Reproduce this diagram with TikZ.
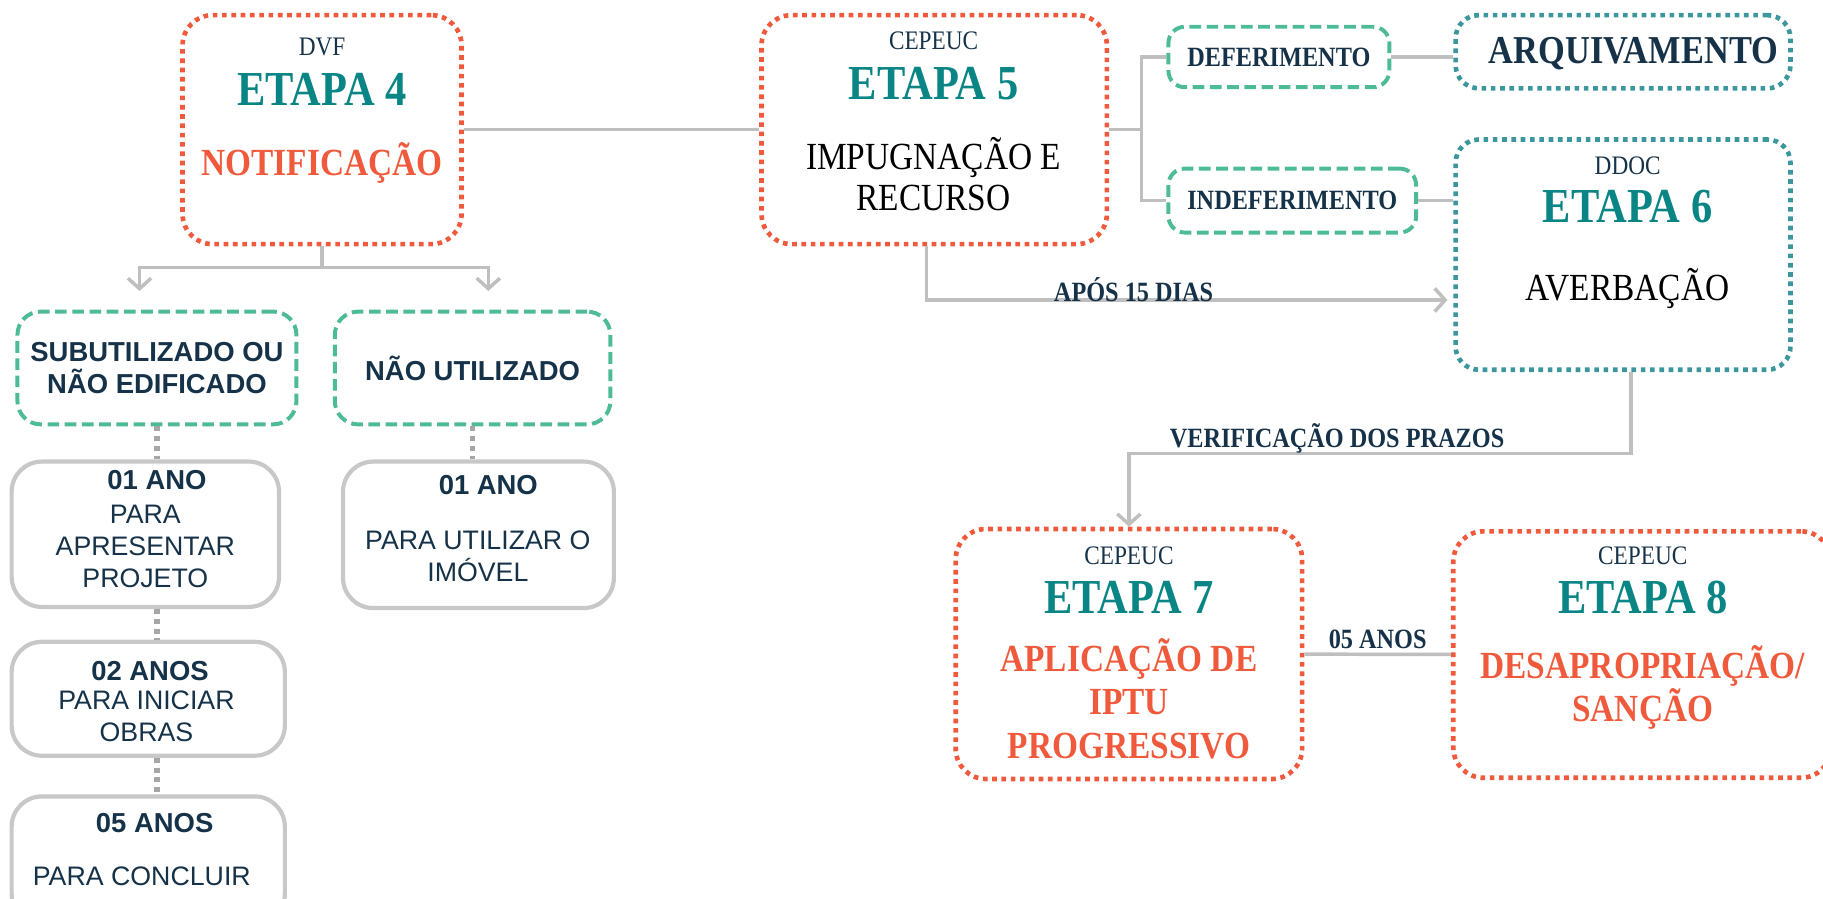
\documentclass[tikz,border=0pt]{standalone}
\usepackage{fontspec}
\setmainfont{Liberation Serif}[FakeStretch=0.87]
\setsansfont{Liberation Sans}
\usepackage{tikz}
\usetikzlibrary{arrows.meta}
\definecolor{laranja}{RGB}{240,90,60}
\definecolor{petroleo}{RGB}{60,150,158}
\definecolor{verde}{RGB}{77,187,152}
\definecolor{tealtxt}{RGB}{10,133,133}
\definecolor{marinho}{RGB}{22,50,72}
\definecolor{cinza}{RGB}{191,191,191}
\definecolor{cinzaesc}{RGB}{166,166,166}
\definecolor{cinzabox}{RGB}{200,200,200}
\tikzset{
        pontos/.style={
            line width=2pt,
            dash pattern=on 2pt off 2pt,
        },
    }

\begin{document}
\begin{tikzpicture}[x=0.5pt,y=-0.5pt,
          conn/.style = {draw=cinza,line width=1.5pt},
          seta/.style = {conn,-{Straight Barb[length=4.5pt,width=10pt]}},
          pontil/.style = {draw=cinzaesc,line width=2.2pt,dash pattern=on 2.2pt off 2pt},
          etapabox/.style = {draw=laranja,pontos,rounded corners=13pt},
          azulbox/.style = {draw=petroleo,pontos,rounded corners=10pt},
          verdebox/.style = {draw=verde,line width=1.7pt,dash pattern=on 5pt off 2.4pt,rounded corners=7pt},
          prazobox/.style = {draw=cinzabox,line width=1.8pt,rounded corners=13pt},
          orgao/.style = {text=marinho,font=\fontsize{11.5}{13}\selectfont},
          etapa/.style = {text=tealtxt,font=\bfseries\fontsize{21}{25}\selectfont},
          titulo/.style = {text=laranja,align=center,font=\bfseries\fontsize{16.5}{18.7}\selectfont},
          texto/.style = {text=black,align=center,font=\fontsize{16.5}{17.5}\selectfont},
          rotulo/.style = {text=marinho,font=\bfseries\fontsize{12}{14}\selectfont},
          sansb/.style = {text=marinho,align=center,font=\sffamily\bfseries\fontsize{11.8}{14}\selectfont},
          sansr/.style = {text=marinho,align=center,font=\sffamily\fontsize{11.5}{13.75}\selectfont}
          ]
 \useasboundingbox (0,0) rectangle (1568,773);
 \clip (0,0) rectangle (1568,773);
          % etapas
          \node[etapabox,minimum width=120pt,minimum height=98.5pt] (@e4) at (277,111.5) {};
          \node[orgao] (@e4o) at (277,40) {DVF};
          \node[etapa] (@e4n) at (277,77) {ETAPA 4};
          \node[titulo] (@e4t) at (277,140) {NOTIFICAÇÃO};
          \node[etapabox,minimum width=148.5pt,minimum height=98.5pt] (@e5) at (803.5,111.5) {};
          \node[orgao] (@e5o) at (803,35) {CEPEUC};
          \node[etapa] (@e5n) at (803,72) {ETAPA 5};
          \node[texto] (@e5t) at (803,150) {IMPUGNAÇÃO E\\RECURSO};
          \node[azulbox,minimum width=144pt,minimum height=99pt] (@e6) at (1396,219) {};
          \node[orgao] (@e6o) at (1400,143) {DDOC};
          \node[etapa] (@e6n) at (1400,178) {ETAPA 6};
          \node[texto] (@e6t) at (1400,248) {AVERBAÇÃO};
          \node[etapabox,minimum width=149pt,minimum height=107.5pt] (@e7) at (971,562.5) {};
          \node[orgao] (@e7o) at (971,478) {CEPEUC};
          \node[etapa] (@e7n) at (971,514) {ETAPA 7};
          \node[titulo] (@e7t) at (971,601) {APLICAÇÃO DE\\IPTU\\PROGRESSIVO};
          \node[etapabox,minimum width=162.5pt,minimum height=106pt] (@e8) at (1412.5,563) {};
          \node[orgao] (@e8o) at (1413,478) {CEPEUC};
          \node[etapa] (@e8n) at (1413,514) {ETAPA 8};
          \node[titulo] (@e8t) at (1413,591.5) {DESAPROPRIAÇÃO/\\SANÇÃO};
          % decisoes
          \node[verdebox,rotulo,minimum width=95pt,minimum height=26pt] (@def) at (1100,49) {DEFERIMENTO};
          \node[verdebox,rotulo,minimum width=106.5pt,minimum height=27.5pt] (@ind) at (1111.5,172.5) {INDEFERIMENTO};
          \node[azulbox,minimum width=144pt,minimum height=31.5pt] (@arq) at (1396,44.5) {};
          \node[rotulo,font=\bfseries\fontsize{17}{19}\selectfont] (@arqt) at (1405,46) {ARQUIVAMENTO};
          % coluna da esquerda
          \node[verdebox,sansb,rounded corners=10pt,minimum width=120pt,minimum height=48.5pt] (@sub) at (135,316.5) {SUBUTILIZADO OU\\NÃO EDIFICADO};
          \node[verdebox,sansb,rounded corners=10pt,minimum width=118.5pt,minimum height=48.5pt] (@nao) at (406.5,316.5) {NÃO UTILIZADO};
          \node[prazobox,minimum width=115pt,minimum height=62.5pt] (@a1) at (125,459.5) {};
          \node[sansb] (@a1a) at (135,413) {01 ANO};
          \node[sansr] (@a1b) at (125,470) {PARA\\APRESENTAR\\PROJETO};
          \node[prazobox,minimum width=117.5pt,minimum height=49pt] (@a2) at (127.5,601) {};
          \node[sansb] (@a2a) at (129,577) {02 ANOS};
          \node[sansr] (@a2b) at (126,616.5) {PARA INICIAR\\OBRAS};
          \node[prazobox,minimum width=117.5pt,minimum height=55pt] (@a3) at (127.5,740) {};
          \node[sansb] (@a3a) at (133,708) {05 ANOS};
          \node[sansr] (@a3b) at (122,754) {PARA CONCLUIR};
          \node[prazobox,minimum width=116.5pt,minimum height=63pt] (@b1) at (411.5,460) {};
          \node[sansb] (@b1a) at (420,417) {01 ANO};
          \node[sansr] (@b1b) at (411,478.5) {PARA UTILIZAR O\\IMÓVEL};
          % ligacoes
          \draw[conn] (@e4.south) -- (@e4.south |- 0,230) coordinate (@split);
          \draw[seta] (@split) -| ([shift={(-7.5pt,8pt)}]@sub.north);
          \draw[seta] (@split) -| ([shift={(6.75pt,8pt)}]@nao.north);
          \draw[pontil] (@sub.south) -- (@sub.south |- @a1.north);
          \draw[pontil] (@sub.south |- @a1.south) -- (@sub.south |- @a2.north);
          \draw[pontil] (@sub.south |- @a2.south) -- (@sub.south |- @a3.north);
          \draw[pontil] (@nao.south) -- (@nao.south |- @b1.north);
          \draw[conn] (@e4) -- (@e5);
          \draw[conn] (@e5.east) -- ++(14pt,0) coordinate (@fork);
          \draw[conn] (@fork) |- (@def.west);
          \draw[conn] (@fork) |- (@ind.west);
          \draw[conn] (@def.east) -- (@def.east -| @arq.west);
          \draw[conn] (@ind.east) -- (@ind.east -| @e6.west);
          \draw[seta] ([xshift=-3.25pt]@e5.south) |- ([xshift=-2.5pt]@e6.west |- 0,258);
          \node[rotulo] (@apos) at (975,249) {APÓS 15 DIAS};
          \draw[seta] ([xshift=3.5pt]@e6.south) -- ([xshift=3.5pt]@e6.south |- 0,390) -| (@e7.north);
          \node[rotulo] (@verif) at (1150,377) {VERIFICAÇÃO DOS PRAZOS};
          \draw[conn] (@e7) -- (@e8);
          \node[rotulo] (@cinco) at (1185,550) {05 ANOS};
        \end{tikzpicture}
\end{document}
